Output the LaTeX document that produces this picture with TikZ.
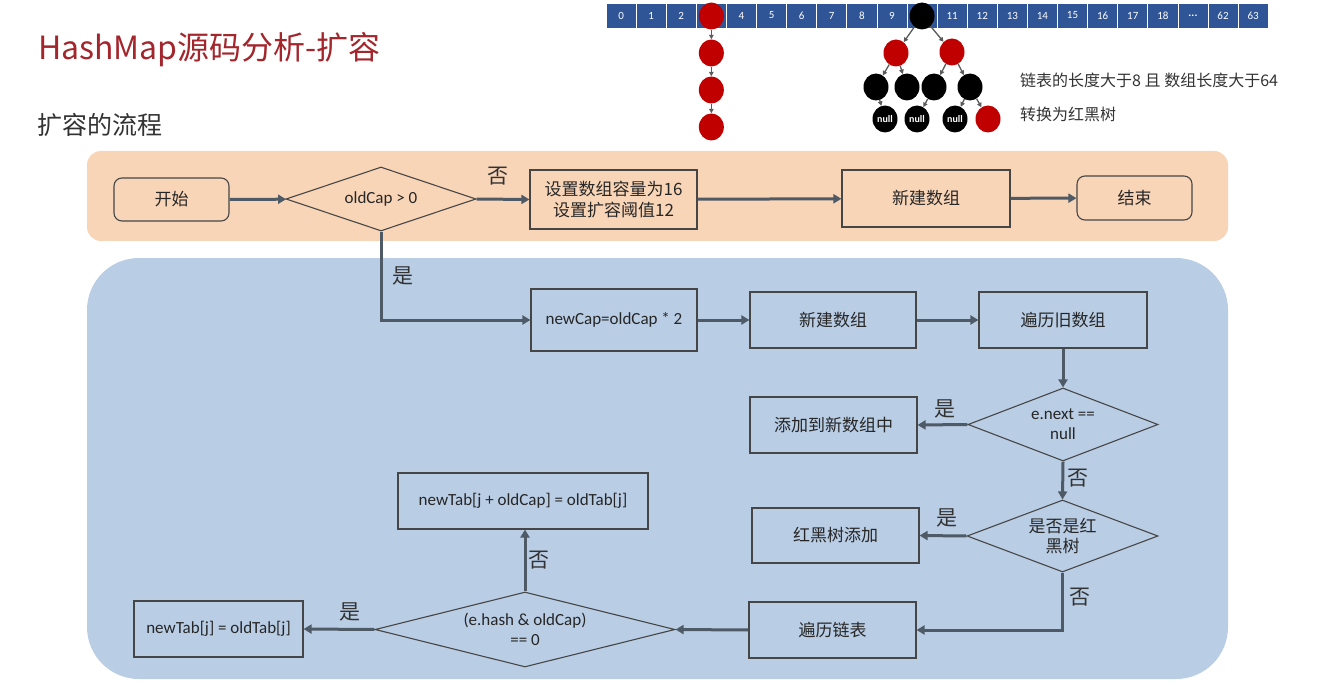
\documentclass[tikz,border=0pt]{standalone}
\usepackage{fontspec}
\setmainfont{Carlito}
\newfontfamily\cjk{Noto Sans CJK SC}
\usetikzlibrary{shapes.geometric,arrows.meta}
\definecolor{titlered}{RGB}{163,38,44}
\definecolor{peach}{RGB}{249,213,184}
\definecolor{bandblue}{RGB}{185,205,229}
\definecolor{edgec}{RGB}{70,70,70}
\definecolor{arrowc}{RGB}{78,90,101}
\definecolor{cellblue}{RGB}{47,85,151}
\definecolor{rbred}{RGB}{192,0,0}
\definecolor{treegray}{RGB}{90,90,90}
\begin{document}
\begin{tikzpicture}[x=1pt,y=-1pt,
  box/.style={draw=edgec, line width=1.1pt, rectangle, inner sep=2pt, align=center,
    font=\fontsize{17}{21}\selectfont, text=black!85},
  rbox/.style={box, rounded corners=8pt},
  dia/.style={draw=edgec, line width=1.1pt, diamond, inner sep=0pt, align=center,
    font=\fontsize{17}{20}\selectfont, text=black!85},
  arr/.style={draw=arrowc, line width=3pt, -{Triangle[length=8pt,width=9pt]}},
  yn/.style={font=\cjk\fontsize{21}{23}\selectfont, text=black!80, inner sep=0pt},
  cell/.style={rectangle, fill=cellblue, draw=white, line width=0.8pt, minimum width=30.1pt,
    minimum height=25pt, inner sep=0pt, text=white, font=\fontsize{11}{13}\selectfont},
  rb/.style={ellipse, minimum width=25pt, minimum height=27pt, inner sep=0pt},
  rnode/.style={rb, fill=rbred},
  bnode/.style={rb, fill=black},
  nnode/.style={rb, fill=black, text=white, font=\bfseries\fontsize{10}{12}\selectfont},
  tarr/.style={draw=treegray, line width=1.3pt, -{Triangle[length=4.5pt,width=4.5pt]}},
  note/.style={anchor=west, inner sep=0pt, font=\cjk\fontsize{16}{18}\selectfont, text=black!80}
]
\useasboundingbox (0,0) rectangle (1336,687);
\fill[white] (0,0) rectangle (1336,687);

% title
\node[anchor=west, inner sep=0pt, text=titlered, font=\cjk\fontsize{32}{36}\selectfont] (title) at (38,50) {HashMap源码分析-扩容};
\node[anchor=west, inner sep=0pt, text=black!80, font=\cjk\fontsize{25}{28}\selectfont] (subtitle) at (37,125) {扩容的流程};

% bands
\fill[peach, rounded corners=14pt] (87,151) rectangle (1228,241);
\fill[bandblue, rounded corners=52pt] (87,258) rectangle (1228,679);

% top row
\node[rbox, minimum width=115pt, minimum height=43pt] (start) at (171.5,199.5) {\cjk 开始};
\node[dia, aspect=3, minimum width=190pt, minimum height=64pt] (d1) at (381,199) {oldCap > 0};
\node[box, minimum width=167pt, minimum height=59pt] (setb) at (613.5,199.5) {\cjk 设置数组容量为16\\\cjk 设置扩容阈值12};
\node[box, minimum width=168pt, minimum height=57pt] (new1) at (926,198.5) {\cjk 新建数组};
\node[rbox, minimum width=115pt, minimum height=44pt] (endb) at (1134.5,198) {\cjk 结束};

\draw[arr] (start) -- (d1);
\draw[arr] (d1.east) -- (setb.west);
\draw[arr] (setb) -- (new1);
\draw[arr] (new1) -- (endb);
\node[yn] (no1) at (498,176) {否};

% blue area
\node[box, minimum width=166pt, minimum height=62pt] (newcap) at (614,320) {newCap=oldCap * 2};
\node[box, minimum width=166pt, minimum height=56pt] (new2) at (833,320) {\cjk 新建数组};
\node[box, minimum width=168pt, minimum height=56pt] (trav) at (1063,320) {\cjk 遍历旧数组};
\node[dia, aspect=2.6, minimum width=190pt, minimum height=73pt] (d2) at (1063,424.5) {e.next ==\\null};
\node[box, minimum width=167pt, minimum height=56pt] (add) at (833.5,425) {\cjk 添加到新数组中};
\node[dia, aspect=2.65, minimum width=191pt, minimum height=72pt] (d3) at (1062.5,536) {\cjk 是否是红\\\cjk 黑树};
\node[box, minimum width=167pt, minimum height=55pt] (rbt) at (835.5,535.5) {\cjk 红黑树添加};
\node[box, minimum width=167pt, minimum height=56pt] (list) at (832.5,630) {\cjk 遍历链表};
\node[dia, aspect=4, minimum width=300pt, minimum height=75pt] (d4) at (525,629.5) {(e.hash \& oldCap)\\== 0};
\node[box, minimum width=169pt, minimum height=56pt] (tabj) at (218.5,629) {newTab[j] = oldTab[j]};
\node[box, minimum width=250pt, minimum height=56pt] (tabjo) at (523,501) {newTab[j + oldCap] = oldTab[j]};

\draw[arr] (d1.south) |- (newcap.west);
\node[yn] (yes1) at (403,276) {是};
\draw[arr] (newcap) -- (new2);
\draw[arr] (new2) -- (trav);
\draw[arr] (trav.south) -- (d2.north);
\draw[arr] (d2.west) -- (add.east);
\node[yn] (yes2) at (945,409) {是};
\draw[arr] (d2.south) -- (d3.north);
\node[yn] (no2) at (1078,478) {否};
\draw[arr] (d3.west) -- (rbt.east);
\node[yn] (yes3) at (947,518) {是};
\draw[arr] (d3.south) |- (list.east);
\node[yn] (no3) at (1080,597) {否};
\draw[arr] (list.west) -- (d4.east);
\draw[arr] (d4.west) -- (tabj.east);
\node[yn] (yes4) at (350,612) {是};
\draw[arr] (d4.north) -- (d4.north |- tabjo.south);
\node[yn] (no4) at (539,560) {否};

% array
\foreach \lab [count=\i from 0] in {0,1,2,{},4,5,6,7,8,9,{},11,12,13,14,15,16,17,18,{\textbf{.\kern0.3pt.\kern0.3pt.}},62,63}
  \node[cell] (c\i) at ({621.05+30.1*\i},15.5) {\lab};

% linked list
\node[rnode] (l0) at (711.35,16) {};
\node[rnode] (l1) at (711.35,53) {};
\node[rnode] (l2) at (711.35,90) {};
\node[rnode] (l3) at (711.35,127) {};
\draw[tarr] (l0) -- (l1);
\draw[tarr] (l1) -- (l2);
\draw[tarr] (l2) -- (l3);

% red-black tree
\node[bnode] (root) at (922.05,16) {};
\node[rnode] (tl) at (896,53) {};
\node[rnode] (tr) at (952,52) {};
\node[bnode] (b1) at (876,87) {};
\node[bnode] (b2) at (907,87) {};
\node[bnode] (b3) at (934,87) {};
\node[bnode] (b4) at (970,87) {};
\node[nnode] (n1) at (885,119) {null};
\node[nnode] (n2) at (917,119) {null};
\node[nnode] (n3) at (955,119) {null};
\node[rnode] (rr) at (988,119) {};
\draw[tarr] (root) -- (tl);
\draw[tarr] (root) -- (tr);
\draw[tarr] (tl) -- (b1);
\draw[tarr] (tl) -- (b2);
\draw[tarr] (tr) -- (b3);
\draw[tarr] (tr) -- (b4);
\draw[tarr] (b1) -- (n1);
\draw[tarr] (b3) -- (n2);
\draw[tarr] (b4) -- (n3);
\draw[tarr] (b4) -- (rr);

\node[note] (note1) at (1020,80) {链表的长度大于8 且 数组长度大于64};
\node[note] (note2) at (1020,114) {转换为红黑树};
\end{tikzpicture}
\end{document}
